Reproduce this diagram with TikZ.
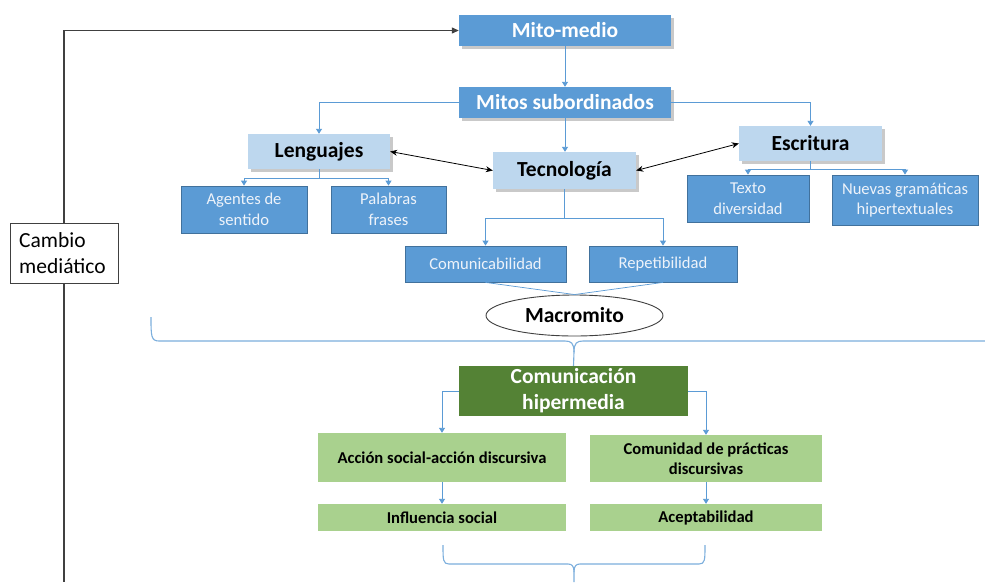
\documentclass[tikz,border=0pt]{standalone}
\usepackage{fontspec}
\setmainfont{Carlito}
\usetikzlibrary{shapes.geometric,shadows,arrows.meta}
\definecolor{mblue}{HTML}{5B9BD5}
\definecolor{dblue}{HTML}{41719C}
\definecolor{lblue}{HTML}{BDD7EE}
\definecolor{dgreen}{HTML}{548235}
\definecolor{lgreen}{HTML}{A9D18E}
\definecolor{ltext}{HTML}{EEF3FA}
\definecolor{grline}{HTML}{404040}
\tikzset{
  big/.style={font=\fontsize{21.5}{26}\selectfont\bfseries},
  small/.style={font=\fontsize{16.6}{20.5}\selectfont},
  sbold/.style={font=\fontsize{16.6}{20.5}\selectfont\bfseries},
  topbox/.style={big, fill=mblue, text=white, inner sep=0pt, align=center,
     drop shadow={shadow xshift=3pt, shadow yshift=-3pt, opacity=0.35, fill=black!60}},
  lbox/.style={big, fill=lblue, text=black, inner sep=0pt, align=center,
     drop shadow={shadow xshift=3pt, shadow yshift=-3pt, opacity=0.35, fill=black!60}},
  mbox/.style={small, fill=mblue, draw=dblue, line width=0.8pt, text=ltext, inner sep=0pt, align=center},
  gbox/.style={sbold, fill=lgreen, text=black, inner sep=0pt, align=center},
  conn/.style={draw=mblue, line width=0.9pt, -{Triangle[length=5pt,width=6pt]}},
  plain/.style={draw=mblue, line width=0.9pt},
  brc/.style={draw=mblue!80, line width=1.1pt},
  dbl/.style={draw=black, line width=0.8pt, {Stealth[length=7pt,width=6pt]}-{Stealth[length=7pt,width=6pt]}},
  gline/.style={draw=grline, line width=1.2pt},
}
\begin{document}
\begin{tikzpicture}[x=1pt,y=-1pt]
\useasboundingbox (0,0) rectangle (985,582);
\fill[white] (0,0) rectangle (985,582);

% top-level nodes
\node[topbox, minimum width=212pt, minimum height=31pt] (mito) at (565,30.5) {Mito-medio};
\node[topbox, minimum width=212pt, minimum height=31pt] (mitos) at (565,102.5) {Mitos subordinados};
\node[lbox, minimum width=142pt, minimum height=35pt] (leng) at (319,151.5) {Lenguajes};
\node[lbox, minimum width=143pt, minimum height=37pt] (tec) at (564.5,170.5) {Tecnología};
\node[lbox, minimum width=143pt, minimum height=35pt] (esc) at (810.5,143.5) {Escritura};

\node[mbox, minimum width=126pt, minimum height=47pt] (agentes) at (244,209.5) {Agentes de\\sentido};
\node[mbox, minimum width=115pt, minimum height=47pt] (palabras) at (388.5,209.5) {Palabras\\frases};
\node[mbox, minimum width=122pt, minimum height=47pt] (texto) at (748,198.5) {Texto\\diversidad};
\node[mbox, minimum width=146pt, minimum height=50pt] (nuevas) at (905,200) {Nuevas gramáticas\\hipertextuales};
\node[mbox, minimum width=161pt, minimum height=36pt] (comunic) at (485.5,264) {Comunicabilidad};
\node[mbox, minimum width=148pt, minimum height=36pt] (repet) at (663,264) {Repetibilidad};

\node[ellipse, draw=black!75, line width=0.9pt, fill=white, big, minimum width=177pt, minimum height=41pt, inner sep=0pt] (macro) at (574.5,315.5) {Macromito};

\node[big, fill=dgreen, text=white, minimum width=229pt, minimum height=50pt, inner sep=0pt, align=center] (hiper) at (573.5,391) {Comunicación\\hipermedia};
\node[gbox, minimum width=248pt, minimum height=49pt] (accion) at (442,457.5) {Acción social-acción discursiva};
\node[gbox, minimum width=232pt, minimum height=47pt] (comunidad) at (706,458.5) {Comunidad de prácticas\\discursivas};
\node[gbox, minimum width=248pt, minimum height=27pt] (influencia) at (442,517.5) {Influencia social};
\node[gbox, minimum width=232pt, minimum height=27pt] (acept) at (706,517.5) {Aceptabilidad};

\node[draw=grline, line width=1pt, fill=white, text=black, minimum width=108pt, minimum height=60pt, inner sep=0pt] (cambio) at (64,253) {};
\node[anchor=west, inner sep=0pt, align=left, font=\fontsize{21.5}{26}\selectfont] (cambiotxt) at (19,253) {Cambio\\mediático};

% connectors
\draw[conn] (mito.south) -- (mitos.north);
\draw[conn] (mitos.west) -| (leng.north);
\draw[conn] (mitos.east) -| (esc.north);
\draw[conn] (mitos.south) -- (mitos.south |- tec.north);

\coordinate (lb) at (319,178);
\draw[plain] (leng.south) -- (lb);
\draw[conn] (lb) -| (agentes.north);
\draw[conn] (lb) -| (palabras.north);

\coordinate (eb) at (810.5,169);
\draw[plain] (esc.south) -- (eb);
\draw[conn] (eb) -| (texto.north);
\draw[conn] (eb) -| (nuevas.north);

\coordinate (tb) at (564.5,218);
\draw[plain] (tec.south) -- (tb);
\draw[conn] (tb) -| (comunic.north);
\draw[conn] (tb) -| (repet.north);

\draw[plain, line width=0.7pt] (comunic.south) -- (macro.north);
\draw[plain, line width=0.7pt] (repet.south) -- (macro.north);

\draw[dbl] (leng.east) -- (tec.west);
\draw[dbl] (tec.east) -- (esc.west);

\draw[conn] (hiper.west) -| (accion.north);
\draw[conn] (hiper.east) -| (comunidad.north);
\draw[conn] (accion.south) -- (influencia.north);
\draw[conn] (comunidad.south) -- (acept.north);

\draw[gline, -{Triangle[length=7pt,width=6pt]}] (cambio.north) |- (mito.west);
\coordinate (cbot) at (64,582);
\draw[gline] (cambio.south) -- (cbot);

% big brace
\draw[brc] (151,317) .. controls (151,336) and (151,341) .. (159,341) -- (565,341)
  .. controls (571,341) and (574,343) .. (574,352) -- (hiper.north);
\draw[brc] (574,352) .. controls (574,343) and (577,341) .. (583,341) -- (985,341);
% bottom brace
\draw[brc] (443,545) .. controls (443,560) and (443,564) .. (449,564) -- (568,564)
  .. controls (572,564) and (574,566) .. (574,572) -- (574,582);
\draw[brc] (574,572) .. controls (574,566) and (576,564) .. (580,564) -- (699,564)
  .. controls (705,564) and (705,560) .. (705,545);
\end{tikzpicture}
\end{document}
